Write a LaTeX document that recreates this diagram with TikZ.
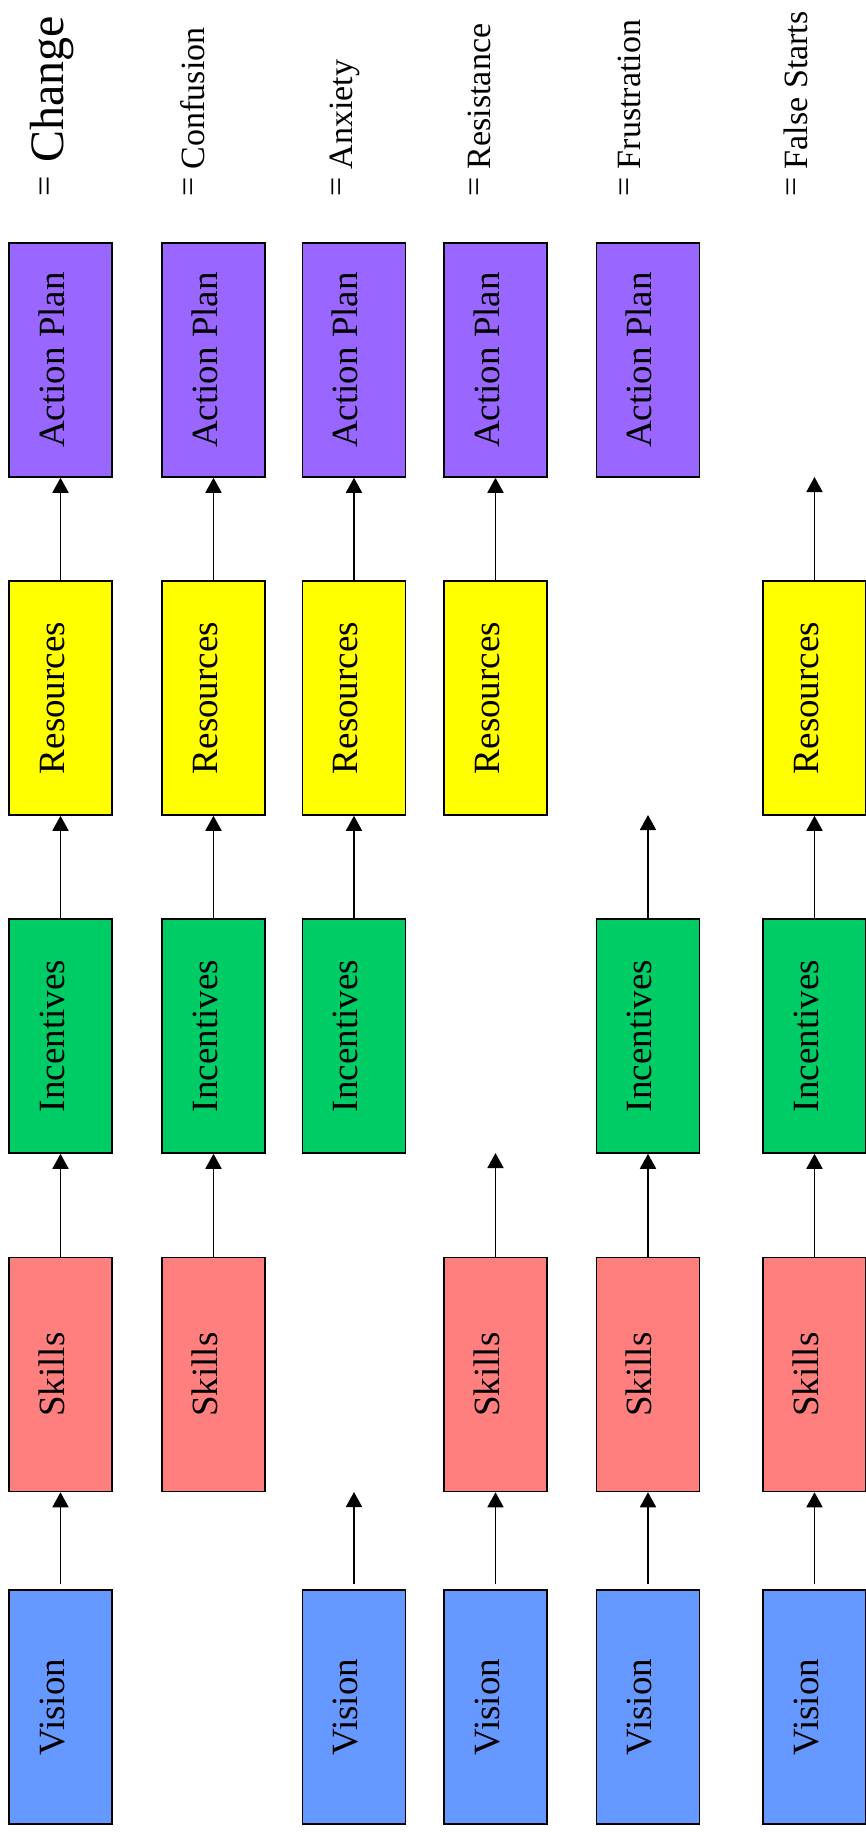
\documentclass[tikz,border=0pt]{standalone}
\usepackage{fontspec}
\setmainfont{Liberation Serif}
\usepackage{tikz}
\usetikzlibrary{arrows.meta}
\usepackage{xcolor}
\definecolor{visblue}{HTML}{6699FF}
\definecolor{skillred}{HTML}{FF7F7F}
\definecolor{incgreen}{HTML}{00CC66}
\definecolor{resyellow}{HTML}{FFFF00}
\definecolor{actpurple}{HTML}{9966FF}

\begin{document}
\begin{tikzpicture}[x=1pt, y=-1pt,
    box/.style={draw=black, line width=1.5pt, rotate=90, minimum width=234pt, minimum height=103pt,
      inner sep=0pt, text height=22pt, text depth=15pt, font=\fontsize{37}{40}\selectfont},
    lbl/.style={rotate=90, anchor=base west, inner sep=0pt, font=\fontsize{34}{38}\selectfont},
    arr/.style={-{Triangle[length=15pt,width=16pt]}, line width=1.8pt}]
    \useasboundingbox (0,0) rectangle (866,1832);

    % labels on top
    \node[lbl] (lchange) at (63,197) {\raisebox{7pt}{\fontsize{36}{40}\selectfont=}\hspace{14pt}{\fontsize{48}{52}\selectfont Change}};
    \node[lbl] (lconf) at (204,197) {\raisebox{5pt}{=} Confusion};
    \node[lbl] (lanx) at (352,197) {\raisebox{5pt}{=} Anxiety};
    \node[lbl] (lres) at (490,197) {\raisebox{5pt}{=} Resistance};
    \node[lbl] (lfrus) at (640,197) {\raisebox{5pt}{=} Frustration};
    \node[lbl] (lfalse) at (807,197) {\raisebox{5pt}{=} False Starts};

    % change
    \node[box, fill=visblue] (vis1) at (60.5,1707) {Vision};
    \node[box, fill=skillred] (ski1) at (60.5,1374.5) {Skills};
    \node[box, fill=incgreen] (inc1) at (60.5,1036) {Incentives};
    \node[box, fill=resyellow] (res1) at (60.5,698) {Resources};
    \node[box, fill=actpurple] (act1) at (60.5,360) {Action Plan};
    \draw[arr, shorten <=5pt] (vis1) -- (ski1);
    \draw[arr] (ski1) -- (inc1);
    \draw[arr] (inc1) -- (res1);
    \draw[arr] (res1) -- (act1);

    % confusion
    \node[box, fill=skillred] (ski2) at (213.5,1374.5) {Skills};
    \node[box, fill=incgreen] (inc2) at (213.5,1036) {Incentives};
    \node[box, fill=resyellow] (res2) at (213.5,698) {Resources};
    \node[box, fill=actpurple] (act2) at (213.5,360) {Action Plan};
    \draw[arr] (ski2) -- (inc2);
    \draw[arr] (inc2) -- (res2);
    \draw[arr] (res2) -- (act2);

    % anxiety
    \node[box, fill=visblue] (vis3) at (354,1707) {Vision};
    \coordinate (gap3) at (354,1492);
    \node[box, fill=incgreen] (inc3) at (354,1036) {Incentives};
    \node[box, fill=resyellow] (res3) at (354,698) {Resources};
    \node[box, fill=actpurple] (act3) at (354,360) {Action Plan};
    \draw[arr, shorten <=5pt] (vis3) -- (gap3);
    \draw[arr] (inc3) -- (res3);
    \draw[arr] (res3) -- (act3);

    % resistance
    \node[box, fill=visblue] (vis4) at (495.5,1707) {Vision};
    \node[box, fill=skillred] (ski4) at (495.5,1374.5) {Skills};
    \coordinate (gap4) at (495.5,1153);
    \node[box, fill=resyellow] (res4) at (495.5,698) {Resources};
    \node[box, fill=actpurple] (act4) at (495.5,360) {Action Plan};
    \draw[arr, shorten <=5pt] (vis4) -- (ski4);
    \draw[arr] (ski4) -- (gap4);
    \draw[arr] (res4) -- (act4);

    % frustration
    \node[box, fill=visblue] (vis5) at (648,1707) {Vision};
    \node[box, fill=skillred] (ski5) at (648,1374.5) {Skills};
    \node[box, fill=incgreen] (inc5) at (648,1036) {Incentives};
    \coordinate (gap5) at (648,815);
    \node[box, fill=actpurple] (act5) at (648,360) {Action Plan};
    \draw[arr, shorten <=5pt] (vis5) -- (ski5);
    \draw[arr] (ski5) -- (inc5);
    \draw[arr] (inc5) -- (gap5);

    % false starts
    \node[box, fill=visblue] (vis6) at (814.5,1707) {Vision};
    \node[box, fill=skillred] (ski6) at (814.5,1374.5) {Skills};
    \node[box, fill=incgreen] (inc6) at (814.5,1036) {Incentives};
    \node[box, fill=resyellow] (res6) at (814.5,698) {Resources};
    \coordinate (gap6) at (814.5,477);
    \draw[arr, shorten <=5pt] (vis6) -- (ski6);
    \draw[arr] (ski6) -- (inc6);
    \draw[arr] (inc6) -- (res6);
    \draw[arr] (res6) -- (gap6);
  \end{tikzpicture}
\end{document}
